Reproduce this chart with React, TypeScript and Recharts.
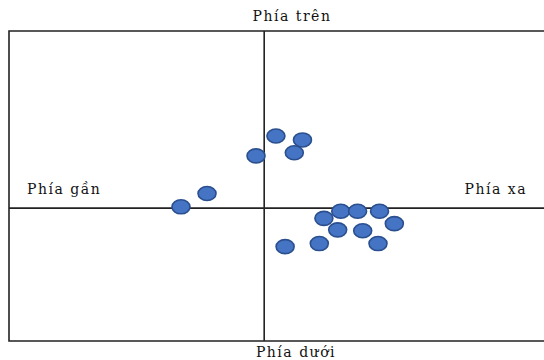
import { ScatterChart, Scatter, XAxis, YAxis, ReferenceLine, ReferenceArea } from 'recharts'

// positions of the dots, in map units (0,0 = where the two lines cross)
const xs = [0.23, 0.75, 0.59, -0.16, -1.12, -1.63, 1.5, 1.83, 2.26, 1.17, 2.55, 1.44, 1.93, 1.08, 2.23, 0.41]
const ys = [1.63, 1.54, 1.25, 1.18, 0.33, 0.03, -0.07, -0.07, -0.07, -0.23, -0.35, -0.49, -0.51, -0.8, -0.8, -0.87]

const X_DOMAIN = [-5, 5.6]
const Y_DOMAIN = [-3, 4]

const LABEL_TOP = 'Phía trên'
const LABEL_BOTTOM = 'Phía dưới'
const LABEL_LEFT = 'Phía gần'
const LABEL_RIGHT = 'Phía xa'

const points = xs.map((x, i) => ({ x, y: ys[i] }))

const LINE = '#222222'
const FONT = '"DejaVu Serif", serif'

function Blob(props: any) {
  const { cx, cy } = props
  return <ellipse cx={cx} cy={cy} rx={9} ry={7} fill="#4674c4" stroke="#2a4f8f" strokeWidth={1.6} />
}

export default function App() {
  const textStyle = { fontFamily: FONT, fontSize: 14, letterSpacing: 1.5, fill: '#111' }
  return (
    <div style={{ position: 'absolute', left: 0, top: 0, width: 544, height: 360, overflow: 'hidden', background: '#fff' }}>
      <ScatterChart width={560} height={360} margin={{ top: 31, left: 9, right: 10, bottom: 19 }}>
        <XAxis type="number" dataKey="x" domain={X_DOMAIN} hide />
        <YAxis type="number" dataKey="y" domain={Y_DOMAIN} hide />
        <ReferenceArea x1={X_DOMAIN[0]} x2={X_DOMAIN[1]} y1={Y_DOMAIN[0]} y2={Y_DOMAIN[1]} fill="none" stroke={LINE} strokeWidth={1.6} fillOpacity={0} />
        <ReferenceLine x={0} stroke={LINE} strokeWidth={1.6} />
        <ReferenceLine y={0} stroke={LINE} strokeWidth={1.6} />
        <Scatter data={points} shape={<Blob />} isAnimationActive={false} />
      </ScatterChart>
      <svg width={544} height={360} style={{ position: 'absolute', left: 0, top: 0, pointerEvents: 'none' }}>
        <text x={292} y={21} textAnchor="middle" style={textStyle}>{LABEL_TOP}</text>
        <text x={27} y={194} style={textStyle}>{LABEL_LEFT}</text>
        <text x={527} y={194} textAnchor="end" style={textStyle}>{LABEL_RIGHT}</text>
        <text x={296} y={357} textAnchor="middle" style={textStyle}>{LABEL_BOTTOM}</text>
      </svg>
    </div>
  )
}
